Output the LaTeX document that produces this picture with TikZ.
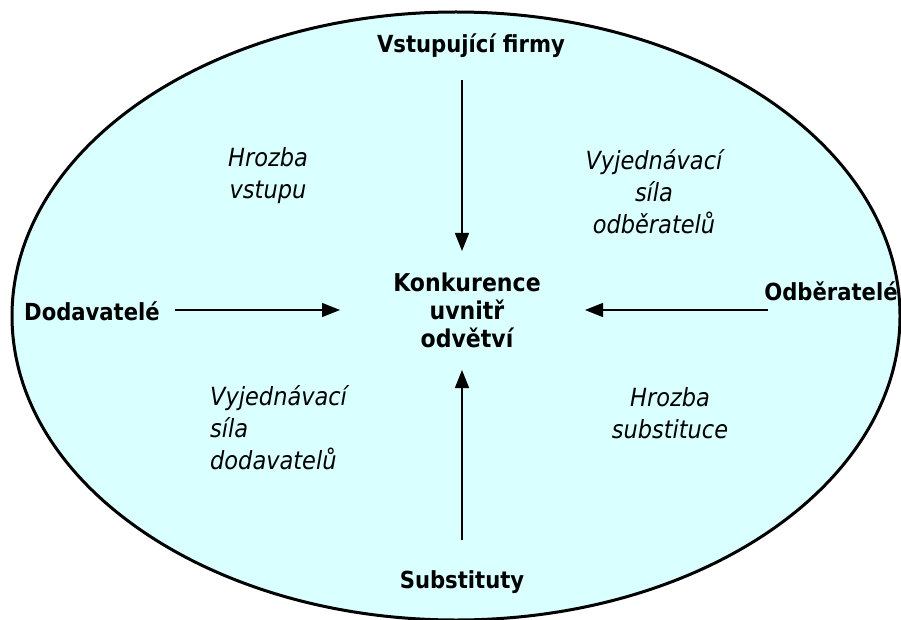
\documentclass[tikz,border=0pt]{standalone}
\usepackage{fontspec}
\setmainfont{DejaVu Sans Condensed}
\usetikzlibrary{arrows.meta}
\definecolor{fillc}{RGB}{218,255,255}
\begin{document}
\begin{tikzpicture}[x=1pt,y=-1pt,
  lbl/.style={font=\bfseries\fontsize{23.5}{28}\selectfont, inner sep=0, anchor=base},
  mid/.style={font=\bfseries\fontsize{24.5}{28}\selectfont, inner sep=0, align=center},
  force/.style={font=\itshape\fontsize{25}{32}\selectfont, inner sep=0},
  arr/.style={line width=1.4pt, -{Triangle[length=18pt,width=14pt]}}]
\useasboundingbox (0,0) rectangle (901,620);
\fill[white] (0,0) rectangle (901,620);
\draw[line width=3pt, fill=fillc] (456,316) ellipse [x radius=444, y radius=304];

\node[lbl] (vst) at (471,53) {Vstupující firmy};
\node[lbl] (dod) at (92,320) {Dodavatelé};
\node[lbl] (odb) at (831,300) {Odběratelé};
\node[lbl] (sub) at (462,588) {Substituty};
\node[mid] (konk) at (467,310) {Konkurence\\uvnitř\\odvětví};

\node[force, align=center] (hv) at (268,176) {Hrozba\\vstupu};
\node[force, align=center] (vso) at (654,192) {Vyjednávací\\síla\\odběratelů};
\node[force, align=left, anchor=west] (vsd) at (210,428) {Vyjednávací\\síla\\dodavatelů};
\node[force, align=center] (hs) at (670,413) {Hrozba\\substituce};

\coordinate (t1) at (462,80);  \coordinate (t2) at (462,251);
\coordinate (b1) at (462,540); \coordinate (b2) at (462,370);
\coordinate (l1) at (175,310); \coordinate (l2) at (340,310);
\coordinate (r1) at (768,310); \coordinate (r2) at (585,310);
\draw[arr] (t1) -- (t2);
\draw[arr] (b1) -- (b2);
\draw[arr] (l1) -- (l2);
\draw[arr] (r1) -- (r2);
\end{tikzpicture}
\end{document}
